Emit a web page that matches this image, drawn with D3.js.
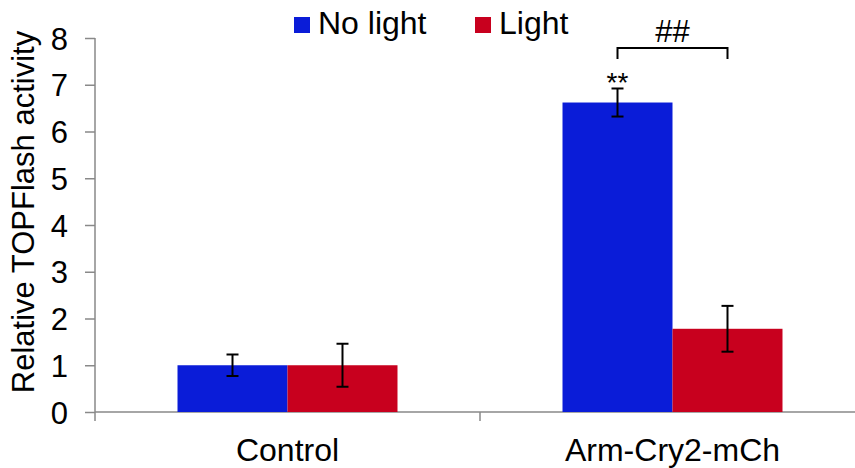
<!DOCTYPE html>
<html>
<head>
<meta charset="utf-8">
<script src="https://cdn.jsdelivr.net/npm/d3@7"></script>
<style>
  body { margin: 0; background: #fff; }
  text { font-family: "Liberation Sans", Arial, sans-serif; fill: #000; }
</style>
</head>
<body>
<script>
// chart data
var categories = ["Control", "Arm-Cry2-mCh"];
var series = ["No light", "Light"];
var noLight = [1.0, 6.62];
var light = [1.0, 1.78];
var noLightErr = [0.23, 0.3];
var lightErr = [0.46, 0.49];
var yTicks = [0, 1, 2, 3, 4, 5, 6, 7, 8];

var colors = ["#0a1cd8", "#c8001e"];

var width = 855,
    height = 468,
    mLeft = 95,
    mTop = 38,
    mBottom = 412,
    mRight = 865;

var svg = d3.select("body").append("svg")
    .attr("width", width)
    .attr("height", height);

var x = d3.scaleBand()
    .domain(categories)
    .range([mLeft, mRight])
    .paddingInner(0)
    .paddingOuter(0);

var sub = d3.scaleBand()
    .domain(series)
    .range([x.bandwidth() * 0.2143, x.bandwidth() * 0.7857]);

var y = d3.scaleLinear()
    .domain([0, 8])
    .range([mBottom, mTop]);

var axisColor = "#898989";

// y axis
var yAxis = svg.append("g")
    .attr("transform", "translate(" + mLeft + ",0)")
    .call(d3.axisLeft(y).tickValues(yTicks).tickSize(10).tickPadding(17));
yAxis.select(".domain").remove();
yAxis.selectAll("line").attr("stroke", axisColor).attr("stroke-width", 1.5);
yAxis.selectAll("text").style("font-size", "31px")
    .attr("font-family", "Liberation Sans, Arial, sans-serif")
    .attr("fill", "#000").attr("dy", "0.36em");
svg.append("line")
    .attr("x1", mLeft).attr("x2", mLeft)
    .attr("y1", mTop).attr("y2", mBottom + 9)
    .attr("stroke", axisColor).attr("stroke-width", 1.5);

// x axis
svg.append("line")
    .attr("x1", mLeft).attr("x2", mRight)
    .attr("y1", mBottom).attr("y2", mBottom)
    .attr("stroke", axisColor).attr("stroke-width", 1.5);
svg.append("g").selectAll("line")
    .data(categories.slice(1))
    .enter().append("line")
    .attr("x1", d => x(d)).attr("x2", d => x(d))
    .attr("y1", mBottom).attr("y2", mBottom + 9)
    .attr("stroke", axisColor).attr("stroke-width", 1.5);
svg.append("g").selectAll("text")
    .data(categories)
    .enter().append("text")
    .attr("x", d => x(d) + x.bandwidth() / 2)
    .attr("y", 461)
    .attr("text-anchor", "middle")
    .style("font-size", "32px")
    .text(d => d);

// bars
var rows = [];
categories.forEach(function(c, i) {
  rows.push({cat: c, s: series[0], v: noLight[i], e: noLightErr[i], col: colors[0]});
  rows.push({cat: c, s: series[1], v: light[i], e: lightErr[i], col: colors[1]});
});

svg.append("g").selectAll("rect")
    .data(rows)
    .enter().append("rect")
    .attr("x", d => x(d.cat) + sub(d.s))
    .attr("y", d => y(d.v))
    .attr("width", sub.bandwidth())
    .attr("height", d => mBottom - y(d.v))
    .attr("fill", d => d.col);

// error bars
var eb = svg.append("g").attr("stroke", "#000").attr("stroke-width", 2);
rows.forEach(function(d) {
  var cx = x(d.cat) + sub(d.s) + sub.bandwidth() / 2;
  eb.append("line").attr("x1", cx).attr("x2", cx)
    .attr("y1", y(d.v + d.e)).attr("y2", y(d.v - d.e));
  eb.append("line").attr("x1", cx - 6).attr("x2", cx + 6)
    .attr("y1", y(d.v + d.e)).attr("y2", y(d.v + d.e));
  eb.append("line").attr("x1", cx - 6).attr("x2", cx + 6)
    .attr("y1", y(d.v - d.e)).attr("y2", y(d.v - d.e));
});

// significance marks
var c1 = categories[1];
var bx1 = x(c1) + sub(series[0]) + sub.bandwidth() / 2,
    bx2 = x(c1) + sub(series[1]) + sub.bandwidth() / 2;
svg.append("text")
    .attr("x", bx1).attr("y", 92)
    .attr("text-anchor", "middle")
    .style("font-size", "28px")
    .text("**");
svg.append("path")
    .attr("d", "M" + bx1 + ",59V48H" + bx2 + "V59")
    .attr("fill", "none")
    .attr("stroke", "#000")
    .attr("stroke-width", 2);
svg.append("text")
    .attr("x", (bx1 + bx2) / 2).attr("y", 42)
    .attr("text-anchor", "middle")
    .style("font-size", "31px")
    .text("##");

// y label
svg.append("text")
    .attr("transform", "translate(34,212) rotate(-90)")
    .attr("text-anchor", "middle")
    .style("font-size", "31px")
    .text("Relative TOPFlash activity");

// legend
var legendX = [294, 475];
var lg = svg.append("g").selectAll("g")
    .data(series)
    .enter().append("g")
    .attr("transform", (d, i) => "translate(" + legendX[i] + ",0)");
lg.append("rect")
    .attr("x", 0).attr("y", 17)
    .attr("width", 16).attr("height", 16)
    .attr("fill", (d, i) => colors[i]);
lg.append("text")
    .attr("x", 24).attr("y", 34)
    .style("font-size", "32px")
    .text(d => d);
</script>
</body>
</html>
